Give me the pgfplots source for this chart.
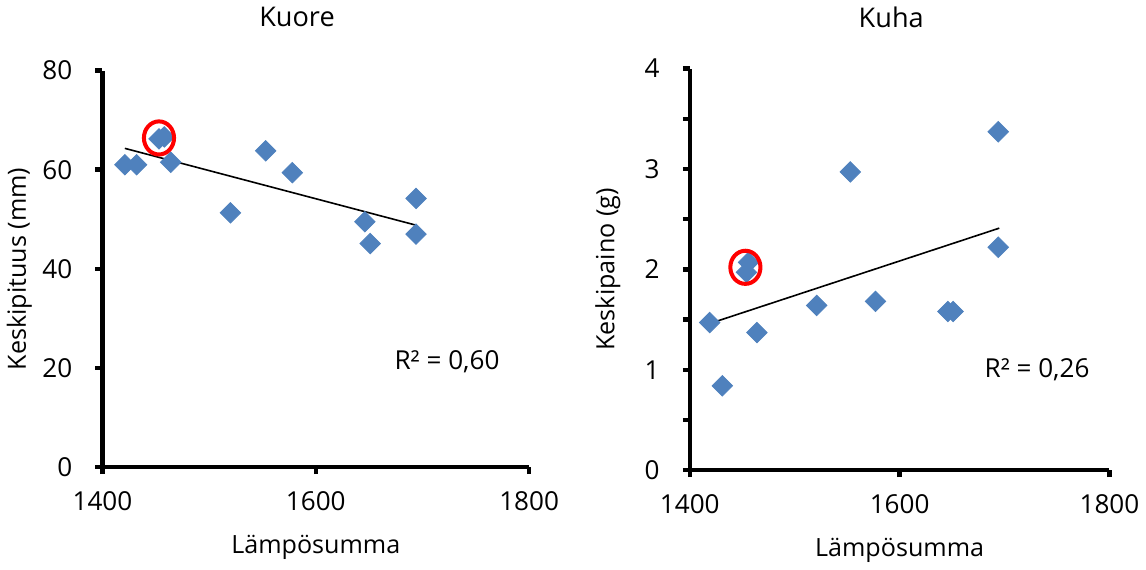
\documentclass[border=0pt]{standalone}
\usepackage{fontspec}
\setmainfont{Open Sans}
\usepackage{pgfplots}
\pgfplotsset{compat=1.18}
\definecolor{exblue}{HTML}{4F81BD}

\pgfplotsset{
  panel/.style={
    scale only axis,
    axis lines*=left,
    axis line style={line width=2.2pt},
    tick style={line width=2.2pt, black},
    tick align=outside,
    major tick length=3.5pt,
    minor tick length=3.5pt,
    xmin=1400, xmax=1800, xtick={1400,1600,1800},
    /pgf/number format/assume math mode=true,
    /pgf/number format/set thousands separator={},
    tick label style={font=\fontsize{13}{15}\selectfont},
    label style={font=\fontsize{12.5}{15}\selectfont},
    xlabel style={at={(axis description cs:0.5,0)}, anchor=center, yshift=-40pt},
    ylabel style={at={(axis description cs:-0.195,0.5)}, anchor=center},
    xticklabel style={yshift=-5pt},
    yticklabel style={xshift=-8pt},
    xlabel={Lämpösumma},
    clip=false,
  },
  pts/.style={only marks, mark=square*, mark size=3.6pt,
    mark options={rotate=45, fill=exblue, draw=exblue}},
  trend/.style={black, line width=0.8pt, no marks},
  ring/.style={only marks, mark=o, mark size=7.5pt,
    mark options={red, line width=2pt, yscale=1.1}},
}

\begin{document}
\begin{tikzpicture}
  % Kuore
  \begin{axis}[panel,
      at={(0,0)}, width=212.5pt, height=197.5pt,
      ymin=0, ymax=80, ytick={0,20,40,60,80},
      ylabel={Keskipituus (mm)},
    ]
    \addplot[pts] coordinates {
      (1421,61.0) (1432,61.0) (1453,66.2) (1458,66.6) (1464,61.5)
      (1520,51.3) (1553,63.8) (1578,59.4) (1646,49.5) (1651,45.1)
      (1694,54.2) (1694,47.0)};
    \addplot[trend] coordinates {(1421,64.3) (1694,48.8)};
    \addplot[ring] coordinates {(1453,66.4)};
    \node[font=\fontsize{13}{15}\selectfont] at (axis cs:1723,21.3) {R² = 0,60};
    \node[font=\fontsize{13.5}{16}\selectfont] at (rel axis cs:0.456,1.135) {Kuore};
  \end{axis}
  % Kuha
  \begin{axis}[panel,
      at={(292.5pt,-1.5pt)}, width=209pt, height=200pt,
      ymin=0, ymax=4, ytick={0,1,2,3,4},
      minor ytick={0.5,1.5,2.5,3.5},
      ylabel={Keskipaino (g)},
    ]
    \addplot[pts] coordinates {
      (1419,1.47) (1431,0.84) (1454,1.97) (1456,2.07) (1464,1.37)
      (1521,1.64) (1553,2.97) (1577,1.68) (1646,1.58) (1651,1.58)
      (1694,3.37) (1694,2.22)};
    \addplot[trend] coordinates {(1419,1.46) (1695,2.41)};
    \addplot[ring] coordinates {(1453,2.02)};
    \node[font=\fontsize{13}{15}\selectfont] at (axis cs:1731,1.0) {R² = 0,26};
    \node[font=\fontsize{13.5}{16}\selectfont] at (rel axis cs:0.48,1.128) {Kuha};
  \end{axis}
\end{tikzpicture}
\end{document}
